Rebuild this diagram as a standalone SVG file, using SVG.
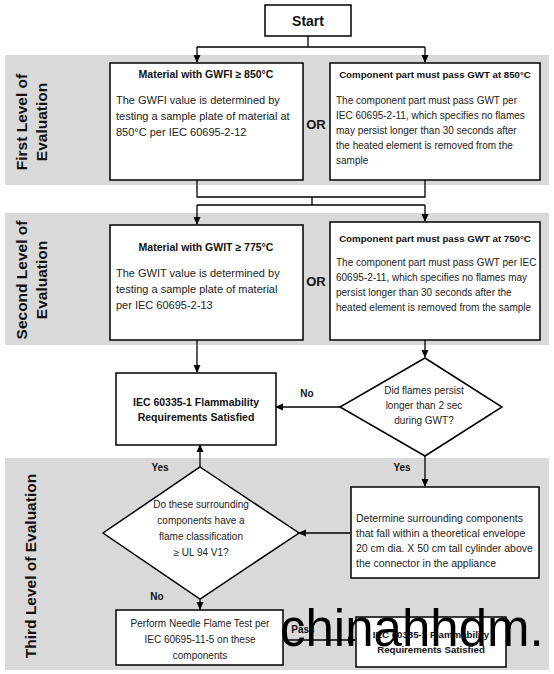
<svg xmlns="http://www.w3.org/2000/svg" width="554" height="674" viewBox="0 0 554 674">
<defs>
<marker id="ah" markerWidth="8" markerHeight="8" refX="7" refY="4" orient="auto" markerUnits="userSpaceOnUse">
<path d="M0,0.5 L8,4 L0,7.5 Z" fill="#000"/>
</marker>
<style>
.band{fill:#d9d9d9}
.box{fill:#fff;stroke:#000;stroke-width:1.5}
.t{font-family:"Liberation Sans",Arial,sans-serif;font-size:10px;fill:#222}
.tl{font-family:"Liberation Sans",Arial,sans-serif;font-size:11px;fill:#222}
.b{font-family:"Liberation Sans",Arial,sans-serif;font-size:9.7px;font-weight:bold;fill:#111}
.bl{font-family:"Liberation Sans",Arial,sans-serif;font-size:10.5px;font-weight:bold;fill:#111}
.c{text-anchor:middle}
.lv{font-family:"Liberation Sans",Arial,sans-serif;font-size:15.5px;font-weight:bold;fill:#111;text-anchor:middle}
.or{font-family:"Liberation Sans",Arial,sans-serif;font-size:13px;font-weight:bold;fill:#111;text-anchor:middle}
.lbl{font-family:"Liberation Sans",Arial,sans-serif;font-size:10px;font-weight:bold;fill:#111;text-anchor:middle}
.ln{fill:none;stroke:#000;stroke-width:1.3}
.wm{font-family:"Liberation Sans",Arial,sans-serif;font-size:51px;fill:#000}
</style>
</defs>
<rect width="554" height="674" fill="#fff"/>
<g id="bands">
<rect class="band" x="5" y="55" width="544" height="130"/>
<rect class="band" x="5" y="213" width="544" height="132"/>
<rect class="band" x="5" y="458" width="544" height="212"/>
</g>
<g id="level-labels">
<text class="lv" transform="translate(27,122) rotate(-90)"><tspan x="0" y="0">First Level of</tspan><tspan x="0" y="20">Evaluation</tspan></text>
<text class="lv" transform="translate(27,280) rotate(-90)"><tspan x="0" y="0">Second Level of</tspan><tspan x="0" y="20">Evaluation</tspan></text>
<text class="lv" transform="translate(36,566) rotate(-90)">Third Level of Evaluation</text>
</g>
<g id="connectors">
<path class="ln" d="M308,36 V47 M197,47 H425"/>
<path class="ln" d="M197,47 V62" marker-end="url(#ah)"/>
<path class="ln" d="M425,47 V62" marker-end="url(#ah)"/>
<path class="ln" d="M197,180 V197 H425 V180 M312,197 V205 M197,205 H425"/>
<path class="ln" d="M197,205 V224" marker-end="url(#ah)"/>
<path class="ln" d="M425,205 V221" marker-end="url(#ah)"/>
<path class="ln" d="M197,340 V372" marker-end="url(#ah)"/>
<path class="ln" d="M425,340 V357" marker-end="url(#ah)"/>
<path class="ln" d="M340,407 H276" marker-end="url(#ah)"/>
<path class="ln" d="M425,456 V486" marker-end="url(#ah)"/>
<path class="ln" d="M350,533 H299" marker-end="url(#ah)"/>
<path class="ln" d="M200,467 V445" marker-end="url(#ah)"/>
<path class="ln" d="M200,599 V609" marker-end="url(#ah)"/>
<path class="ln" d="M283,640 H355" marker-end="url(#ah)"/>
<text class="lbl" x="307" y="397">No</text>
<text class="lbl" x="160" y="471">Yes</text>
<text class="lbl" x="402" y="471">Yes</text>
<text class="lbl" x="157" y="600">No</text>
<text class="lbl" x="303" y="633">Pass</text>
</g>
<g id="start">
<rect class="box" x="265" y="5" width="86" height="31"/>
<text x="308" y="26" class="c" style="font-family:'Liberation Sans',Arial,sans-serif;font-size:14px;font-weight:bold;fill:#111">Start</text>
</g>
<g id="gwfi">
<rect class="box" x="110" y="63" width="193" height="117"/>
<text class="bl c" x="206" y="78">Material with GWFI ≥ 850°C</text>
<text class="tl"><tspan x="116" y="104">The GWFI value is determined by</tspan><tspan x="116" y="120">testing a sample plate of material at</tspan><tspan x="116" y="136">850°C per IEC 60695-2-12</tspan></text>
</g>
<text class="or" x="316" y="129">OR</text>
<g id="gwt850">
<rect class="box" x="330" y="63" width="210" height="117"/>
<text class="b c" x="435" y="78">Component part must pass GWT at 850°C</text>
<text class="t"><tspan x="336" y="104">The component part must pass GWT per</tspan><tspan x="336" y="119">IEC 60695-2-11, which specifies no flames</tspan><tspan x="336" y="134">may persist longer than 30 seconds after</tspan><tspan x="336" y="149">the heated element is removed from the</tspan><tspan x="336" y="164">sample</tspan></text>
</g>
<g id="gwit">
<rect class="box" x="110" y="225" width="193" height="115"/>
<text class="bl c" x="206" y="251">Material with GWIT ≥ 775°C</text>
<text class="tl"><tspan x="116" y="277">The GWIT value is determined by</tspan><tspan x="116" y="293">testing a sample plate of material</tspan><tspan x="116" y="309">per IEC 60695-2-13</tspan></text>
</g>
<text class="or" x="316" y="286">OR</text>
<g id="gwt750">
<rect class="box" x="330" y="222" width="210" height="118"/>
<text class="b c" x="435" y="242">Component part must pass GWT at 750°C</text>
<text class="t"><tspan x="336" y="266">The component part must pass GWT per IEC</tspan><tspan x="336" y="281">60695-2-11, which specifies no flames may</tspan><tspan x="336" y="296">persist longer than 30 seconds after the</tspan><tspan x="336" y="311">heated element is removed from the sample</tspan></text>
</g>
<g id="satisfied1">
<rect class="box" x="116" y="373" width="160" height="72"/>
<text class="bl c"><tspan x="196" y="406">IEC 60335-1 Flammability</tspan><tspan x="196" y="421">Requirements Satisfied</tspan></text>
</g>
<g id="flames-persist">
<path class="box" d="M425,358 L502,407 L425,456 L340,407 Z"/>
<text class="t c"><tspan x="424" y="394">Did flames persist</tspan><tspan x="424" y="409">longer than 2 sec</tspan><tspan x="424" y="424">during GWT?</tspan></text>
</g>
<g id="surrounding">
<rect class="box" x="351" y="487" width="188" height="91"/>
<text class="t" style="font-size:10.5px"><tspan x="356" y="522">Determine surrounding components</tspan><tspan x="356" y="537">that fall within a theoretical envelope</tspan><tspan x="356" y="552">20 cm dia. X 50 cm tall cylinder above</tspan><tspan x="356" y="567">the connector in the appliance</tspan></text>
</g>
<g id="ul94">
<path class="box" d="M200,467 L299,533 L200,599 L103,533 Z"/>
<text class="t c"><tspan x="201" y="508">Do these surrounding</tspan><tspan x="201" y="524">components have a</tspan><tspan x="201" y="540">flame classification</tspan><tspan x="201" y="556">≥  UL 94 V1?</tspan></text>
</g>
<g id="needle">
<rect class="box" x="116" y="610" width="167" height="55"/>
<text class="t c"><tspan x="200" y="627">Perform Needle Flame Test per</tspan><tspan x="200" y="643">IEC 60695-11-5 on these</tspan><tspan x="200" y="659">components</tspan></text>
</g>
<g id="satisfied2">
<rect class="box" x="356" y="617" width="150" height="50"/>
<text class="b c"><tspan x="431" y="638">IEC 60335-1 Flammability</tspan><tspan x="431" y="653">Requirements Satisfied</tspan></text>
</g>
<text class="wm" x="280" y="646">chinahhdm.</text>
</svg>
